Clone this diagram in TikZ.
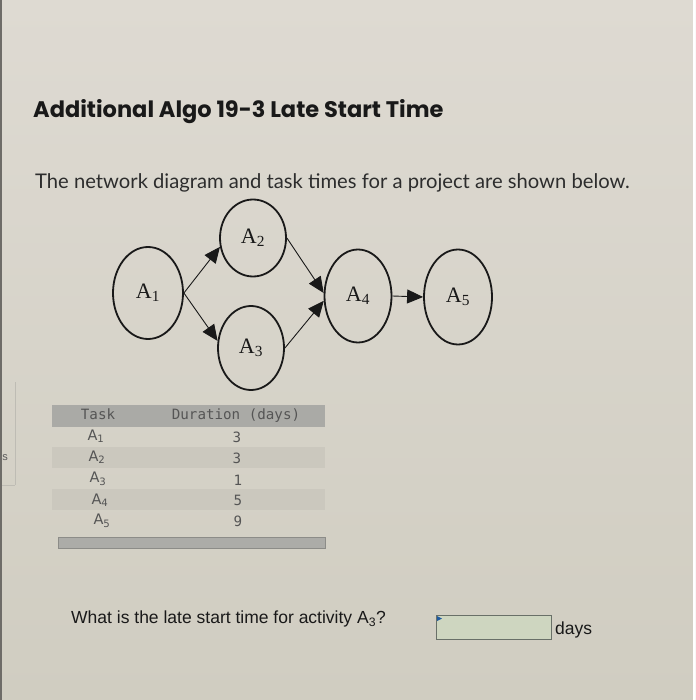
\documentclass[tikz,border=0pt]{standalone}
\usepackage{fontspec}
\setmainfont{Liberation Serif}
\newfontfamily\titlefont{Poppins}
\newfontfamily\subfont{Lato}
\newfontfamily\monofont{DejaVu Sans Mono}
\newfontfamily\tabsans{DejaVu Sans}
\newfontfamily\qfont{Liberation Sans}
\usetikzlibrary{arrows.meta,shapes.geometric}
\definecolor{bgtop}{RGB}{222,218,210}
\definecolor{bgbot}{RGB}{208,205,193}
\definecolor{hdr}{RGB}{170,170,166}
\definecolor{stripe}{RGB}{203,200,190}
\definecolor{tabtext}{RGB}{85,85,85}
\definecolor{boxfill}{RGB}{206,214,192}
\definecolor{boxline}{RGB}{105,112,104}
\definecolor{ink}{RGB}{25,25,25}
\definecolor{edgeline}{RGB}{110,108,104}
\definecolor{panel}{RGB}{190,188,180}
\definecolor{stext}{RGB}{90,90,90}
\definecolor{subtext}{RGB}{45,45,45}
\definecolor{barfill}{RGB}{172,172,168}
\definecolor{barline}{RGB}{140,140,136}
\definecolor{marker}{RGB}{30,90,160}
\begin{document}
\begin{tikzpicture}[x=1pt,y=-1pt,
  ell/.style={ellipse,draw=ink,line width=1.8pt,inner sep=0pt,font=\fontsize{22}{22}\selectfont,text=ink},
  conn/.style={draw=ink,line width=0.9pt,-{Triangle[length=16pt,width=14pt]}},
  tabtxt/.style={font=\monofont\fontsize{14.2}{14.2}\selectfont,text=tabtext,inner sep=0pt},
  tabA/.style={font=\tabsans\fontsize{14.5}{14.5}\selectfont,text=tabtext,inner sep=0pt}]
\useasboundingbox (0,0) rectangle (695,700);
\shade[top color=bgtop,bottom color=bgbot] (0,0) rectangle (695,700);
\draw[line width=2pt,draw=edgeline] (1,0) -- (1,700);
\draw[line width=1.5pt,draw=white] (694,0) -- (694,700);
\draw[line width=0.6pt,draw=panel] (15,382) -- (15,485);
\draw[line width=0.6pt,draw=panel] (2,485) -- (15,485);
\node[font=\qfont\fontsize{11}{11}\selectfont,text=stext,inner sep=0pt] (s) at (5,458) {s};

% title and subtitle
\node[anchor=west,inner sep=0pt,font=\titlefont\bfseries\fontsize{22.5}{23}\selectfont,text=ink] (title) at (33,112) {Additional Algo 19-3 Late Start Time};
\node[anchor=west,inner sep=0pt,font=\subfont\fontsize{20.2}{20}\selectfont,text=subtext] (sub) at (35,183) {The network diagram and task times for a project are shown below.};

% network
\node[ell,minimum width=70pt,minimum height=92pt] (a1) at (148,293) {A\textsubscript{1}};
\node[ell,minimum width=66pt,minimum height=77pt] (a2) at (253,238) {A\textsubscript{2}};
\node[ell,minimum width=66pt,minimum height=84pt] (a3) at (251,348) {A\textsubscript{3}};
\node[ell,minimum width=67pt,minimum height=93pt] (a4) at (358,296) {A\textsubscript{4}};
\node[ell,minimum width=68pt,minimum height=95pt] (a5) at (458,297) {A\textsubscript{5}};
\draw[conn] (a1.east) -- (a2.195);
\draw[conn] (a1.east) -- (a3.168);
\draw[conn] (a2.east) -- (a4.175);
\draw[conn] (a3.east) -- (a4.188);
\draw[conn] (a4.east) -- (a5.west);

% table
\fill[hdr] (52,405) rectangle (325,427);
\fill[stripe] (52,447) rectangle (325,468);
\fill[stripe] (52,489) rectangle (325,510);
\draw[fill=barfill,draw=barline,line width=0.8pt] (58,537) rectangle (325,548);
\node[tabtxt] (hTask) at (98,414) {Task};
\node[tabtxt] (hDur) at (236,416) {Duration (days)};
\node[tabA] (t1) at (96,436) {A\textsubscript{1}};
\node[tabA] (t2) at (97,457) {A\textsubscript{2}};
\node[tabA] (t3) at (98,479) {A\textsubscript{3}};
\node[tabA] (t4) at (100,500) {A\textsubscript{4}};
\node[tabA] (t5) at (102,521) {A\textsubscript{5}};
\node[tabtxt] (d1) at (237,437) {3};
\node[tabtxt] (d2) at (237,458) {3};
\node[tabtxt] (d3) at (238,480) {1};
\node[tabtxt] (d4) at (238,500) {5};
\node[tabtxt] (d5) at (238,521) {9};

% question
\node[anchor=west,inner sep=0pt,font=\qfont\fontsize{17.5}{17.5}\selectfont,text=ink] (q) at (71,619) {What is the late start time for activity A\textsubscript{3}?};
\draw[fill=boxfill,draw=boxline,line width=1pt] (436,615) rectangle (551,639);
\fill[marker] (437,616) -- (442,618.5) -- (437,621) -- cycle;
\node[anchor=west,inner sep=0pt,font=\qfont\fontsize{17.5}{17.5}\selectfont,text=ink] (days) at (555,630) {days};
\end{tikzpicture}
\end{document}
